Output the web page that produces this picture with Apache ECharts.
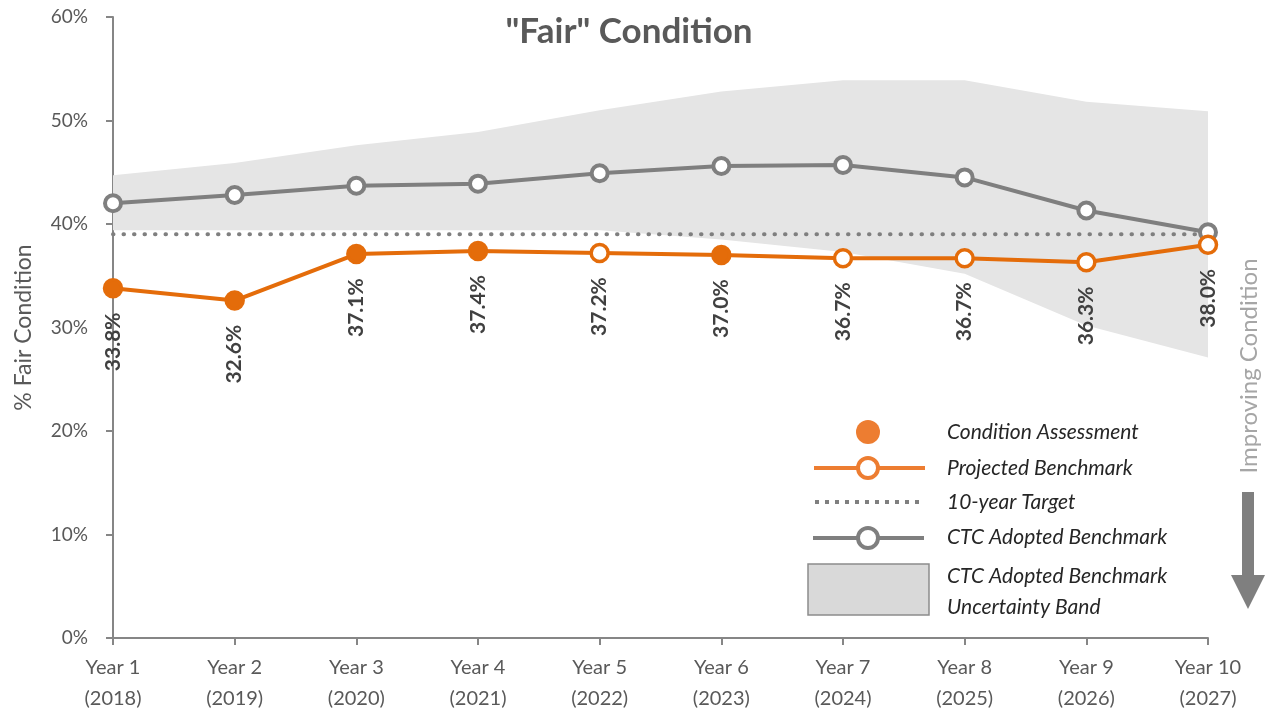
<!doctype html>
<html>
<head>
	<meta charset="utf-8">
	<title>"Fair" Condition</title>
	<script src="https://cdn.jsdelivr.net/npm/echarts@6/dist/echarts.min.js"></script>
	<style>
		html, body { margin: 0; padding: 0; background: #fff; }
		#chart { width: 1272px; height: 719px; }
	</style>
</head>
<body>
	<div id="chart"></div>
	<script>
		var categories = ['Year 1\n(2018)', 'Year 2\n(2019)', 'Year 3\n(2020)', 'Year 4\n(2021)', 'Year 5\n(2022)',
			'Year 6\n(2023)', 'Year 7\n(2024)', 'Year 8\n(2025)', 'Year 9\n(2026)', 'Year 10\n(2027)'];
		var projected = [33.8, 32.6, 37.1, 37.4, 37.2, 37.0, 36.7, 36.7, 36.3, 38.0];
		// true = condition assessment (filled marker)
		var assessed = [true, true, true, true, false, true, false, false, false, false];
		var ctcBenchmark = [42.0, 42.8, 43.7, 43.9, 44.9, 45.6, 45.7, 44.5, 41.3, 39.2];
		var target = [39.0, 39.0, 39.0, 39.0, 39.0, 39.0, 39.0, 39.0, 39.0, 39.0];
		var bandUpper = [44.7, 45.9, 47.6, 48.9, 51.0, 52.8, 53.9, 53.9, 51.8, 50.9];
		var bandLower = [39.4, 39.4, 39.4, 39.4, 39.4, 38.5, 37.3, 35.2, 30.2, 27.1];

		var orange = '#e46c0a';
		var grey = '#7f7f7f';
		var font = 'Lato';
		var legendFont = 'italic 21px Lato';

		var chart = echarts.init(document.getElementById('chart'));

		var bandSpan = bandUpper.map(function(v, i) {
			return +(v - bandLower[i]).toFixed(2);
		});
		var projectedData = projected.map(function(v, i) {
			return assessed[i] ? { value: v, itemStyle: { color: orange } } : v;
		});

		chart.setOption({
			animation: false,
			title: {
				text: '"Fair" Condition',
				left: 624,
				top: 9,
				textAlign: 'center',
				textStyle: { fontFamily: font, fontSize: 35, fontWeight: 'bold', color: '#595959' }
			},
			grid: { left: 113, right: 64, top: 17, bottom: 81, outerBoundsMode: 'none' },
			xAxis: {
				type: 'category',
				data: categories,
				boundaryGap: false,
				axisLine: { lineStyle: { color: '#868686', width: 2 } },
				axisTick: { length: 7, lineStyle: { color: '#868686', width: 2 } },
				axisLabel: { margin: 14, fontFamily: font, fontSize: 20, color: '#595959', lineHeight: 31 }
			},
			yAxis: {
				type: 'value',
				min: 0,
				max: 60,
				interval: 10,
				name: '% Fair Condition',
				nameLocation: 'middle',
				nameGap: 78,
				nameTextStyle: { fontFamily: font, fontSize: 23, color: '#595959' },
				splitLine: { show: false },
				axisLine: { show: true, lineStyle: { color: '#868686', width: 2 } },
				axisTick: { show: true, length: 7, lineStyle: { color: '#868686', width: 2 } },
				axisLabel: { margin: 25, formatter: '{value}%', fontFamily: font, fontSize: 19, color: '#595959' }
			},
			series: [{
				name: 'bandBase',
				type: 'line',
				stack: 'band',
				data: bandLower,
				symbol: 'none',
				silent: true,
				lineStyle: { width: 0, opacity: 0 }
			}, {
				name: 'CTC Adopted Benchmark Uncertainty Band',
				type: 'line',
				stack: 'band',
				data: bandSpan,
				symbol: 'none',
				silent: true,
				lineStyle: { width: 0, opacity: 0 },
				areaStyle: { color: '#e5e5e5', opacity: 1 }
			}, {
				name: '10-year Target',
				type: 'line',
				data: target,
				symbol: 'none',
				lineStyle: { color: grey, width: 4, type: [0.5, 10], cap: 'round' }
			}, {
				name: 'CTC Adopted Benchmark',
				type: 'line',
				data: ctcBenchmark,
				symbol: 'circle',
				symbolSize: 16,
				lineStyle: { color: grey, width: 4 },
				itemStyle: { color: '#fff', borderColor: grey, borderWidth: 4 }
			}, {
				name: 'Projected Benchmark',
				type: 'line',
				data: projectedData,
				symbol: 'circle',
				symbolSize: 17,
				lineStyle: { color: orange, width: 4 },
				itemStyle: { color: '#fff', borderColor: orange, borderWidth: 3.5 },
				label: {
					show: true,
					position: 'bottom',
					distance: 14,
					rotate: 90,
					align: 'right',
					verticalAlign: 'middle',
					fontFamily: font,
					fontSize: 21,
					fontWeight: 'bold',
					color: '#404040',
					formatter: function(p) {
						return p.value.toFixed(1) + '%';
					}
				}
			}],
			graphic: [
				{ type: 'circle', shape: { cx: 868, cy: 432, r: 12 }, style: { fill: '#ed7d31' } },
				{ type: 'line', shape: { x1: 814, y1: 468, x2: 925, y2: 468 }, style: { stroke: '#ed7d31', lineWidth: 4 } },
				{ type: 'circle', shape: { cx: 868, cy: 468, r: 10 }, style: { fill: '#fff', stroke: '#ed7d31', lineWidth: 4 } },
				{ type: 'line', shape: { x1: 815, y1: 502, x2: 920, y2: 502 }, style: { stroke: grey, lineWidth: 4, lineDash: [4, 6] } },
				{ type: 'line', shape: { x1: 813, y1: 538, x2: 924, y2: 538 }, style: { stroke: grey, lineWidth: 4 } },
				{ type: 'circle', shape: { cx: 868, cy: 538, r: 10 }, style: { fill: '#fff', stroke: grey, lineWidth: 4 } },
				{ type: 'rect', shape: { x: 808, y: 564, width: 121, height: 51 }, style: { fill: '#d9d9d9', stroke: '#8c8c8c', lineWidth: 1.5 } },
				{ type: 'text', x: 947, y: 432, style: { text: 'Condition Assessment', font: legendFont, fill: '#262626', textVerticalAlign: 'middle' } },
				{ type: 'text', x: 947, y: 468, style: { text: 'Projected Benchmark', font: legendFont, fill: '#262626', textVerticalAlign: 'middle' } },
				{ type: 'text', x: 947, y: 502, style: { text: '10-year Target', font: legendFont, fill: '#262626', textVerticalAlign: 'middle' } },
				{ type: 'text', x: 947, y: 537, style: { text: 'CTC Adopted Benchmark', font: legendFont, fill: '#262626', textVerticalAlign: 'middle' } },
				{ type: 'text', x: 947, y: 576, style: { text: 'CTC Adopted Benchmark', font: legendFont, fill: '#262626', textVerticalAlign: 'middle' } },
				{ type: 'text', x: 947, y: 607, style: { text: 'Uncertainty Band', font: legendFont, fill: '#262626', textVerticalAlign: 'middle' } },
				{ type: 'text', x: 1249, y: 366, rotation: Math.PI / 2, style: { text: 'Improving Condition', font: '24px Lato', fill: '#a6a6a6', textAlign: 'center', textVerticalAlign: 'middle' } },
				{ type: 'polygon', shape: { points: [[1242, 492], [1254, 492], [1254, 575], [1265, 575], [1248, 609], [1231, 575], [1242, 575]] }, style: { fill: grey } }
			]
		});
	</script>
</body>
</html>
